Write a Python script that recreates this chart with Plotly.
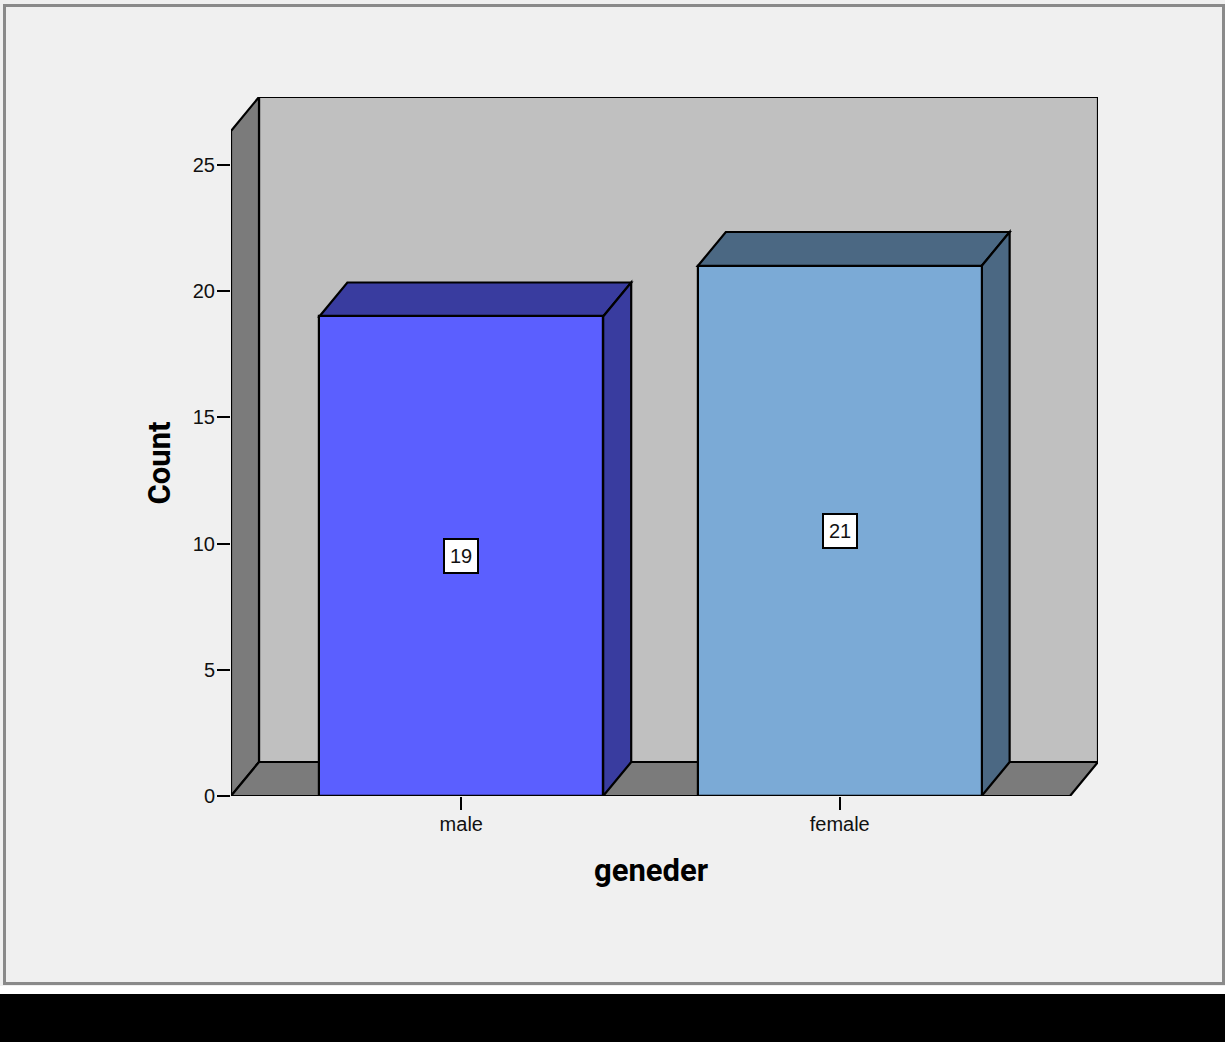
import plotly.graph_objects as go

# ---- data ----
categories = ["male", "female"]
counts = [19, 21]
front_colors = ["#5B5FFF", "#7BAAD6"]
shade_colors = ["#393C9F", "#4B6883"]
y_tick_values = [0, 5, 10, 15, 20, 25]

# ---- 3D box geometry (data units) ----
BAR_WIDTH = 0.75
DEPTH_X = 0.074
DEPTH_Y = 1.347
X_LEFT, X_RIGHT = -0.6085, 1.6085
Y_TOP = 26.35

# ---- figure / plot-area geometry (pixels) ----
W, H = 1225, 1042
M_L, M_R, M_T, M_B = 231, 127, 97, 246
PW, PH = W - M_L - M_R, H - M_T - M_B


def px(xpix):
    return (xpix - M_L) / PW


def py(ypix):
    return (H - M_B - ypix) / PH


def poly(points):
    return "M " + " L ".join(f"{x},{y}" for x, y in points) + " Z"


EDGE = dict(color="black", width=2.2)
WALL_DARK = "#7B7B7B"
WALL_BACK = "#C0C0C0"
BG = "#F0F0F0"

xs = list(range(len(categories)))

fig = go.Figure()
fig.add_trace(go.Bar(
    x=xs, y=counts, width=BAR_WIDTH,
    marker=dict(color=front_colors, line=EDGE),
    hoverinfo="skip", showlegend=False,
))

shapes = []
# back wall
shapes.append(dict(type="rect", xref="x", yref="y", layer="below",
                   x0=X_LEFT + DEPTH_X, x1=X_RIGHT + DEPTH_X,
                   y0=DEPTH_Y, y1=Y_TOP + DEPTH_Y,
                   fillcolor=WALL_BACK, line=EDGE))
# left side wall
shapes.append(dict(type="path", xref="x", yref="y", layer="below",
                   path=poly([(X_LEFT, 0), (X_LEFT, Y_TOP),
                              (X_LEFT + DEPTH_X, Y_TOP + DEPTH_Y),
                              (X_LEFT + DEPTH_X, DEPTH_Y)]),
                   fillcolor=WALL_DARK, line=EDGE))
# floor
shapes.append(dict(type="path", xref="x", yref="y", layer="below",
                   path=poly([(X_LEFT, 0), (X_RIGHT, 0),
                              (X_RIGHT + DEPTH_X, DEPTH_Y),
                              (X_LEFT + DEPTH_X, DEPTH_Y)]),
                   fillcolor=WALL_DARK, line=EDGE))
# top and side faces of each bar
for xi, v, shade in zip(xs, counts, shade_colors):
    l, r = xi - BAR_WIDTH / 2, xi + BAR_WIDTH / 2
    shapes.append(dict(type="path", xref="x", yref="y", layer="below",
                       path=poly([(l, v), (r, v), (r + DEPTH_X, v + DEPTH_Y),
                                  (l + DEPTH_X, v + DEPTH_Y)]),
                       fillcolor=shade, line=EDGE))
    shapes.append(dict(type="path", xref="x", yref="y", layer="below",
                       path=poly([(r, 0), (r, v), (r + DEPTH_X, v + DEPTH_Y),
                                  (r + DEPTH_X, DEPTH_Y)]),
                       fillcolor=shade, line=EDGE))

# outer frame and bottom band
shapes.append(dict(type="rect", xref="paper", yref="paper", layer="above",
                   x0=px(4.5), x1=px(1223.5), y0=py(5.5), y1=py(983.5),
                   fillcolor="rgba(0,0,0,0)", line=dict(color="#8A8A8A", width=3)))
shapes.append(dict(type="rect", xref="paper", yref="paper", layer="above",
                   x0=px(-5), x1=px(1230), y0=py(986), y1=py(994),
                   fillcolor="white", line=dict(width=0)))
shapes.append(dict(type="rect", xref="paper", yref="paper", layer="above",
                   x0=px(-5), x1=px(1230), y0=py(994), y1=py(1050),
                   fillcolor="black", line=dict(width=0)))

TICK_FONT = dict(family="Liberation Sans, Arial, sans-serif", size=20, color="#111111")
TITLE_FONT = dict(family="Roboto, sans-serif", size=31, color="black", weight="bold")

annotations = []
for xi, v in zip(xs, counts):
    annotations.append(dict(
        x=xi, y=v / 2, xref="x", yref="y", text=str(v), showarrow=False,
        font=TICK_FONT, bgcolor="white", bordercolor="black",
        borderwidth=2, borderpad=5,
    ))
annotations.append(dict(
    x=px(159), y=py(463.5), xref="paper", yref="paper", text="Count",
    textangle=-90, showarrow=False, font=TITLE_FONT,
    xanchor="center", yanchor="middle",
))
annotations.append(dict(
    x=px(650.5), y=py(870), xref="paper", yref="paper", text="geneder",
    showarrow=False, font=TITLE_FONT, xanchor="center", yanchor="middle",
))

fig.update_layout(
    width=W, height=H,
    margin=dict(l=M_L, r=M_R, t=M_T, b=M_B, pad=0),
    paper_bgcolor=BG, plot_bgcolor=BG,
    shapes=shapes, annotations=annotations,
    xaxis=dict(
        range=[X_LEFT, X_RIGHT + DEPTH_X], tickvals=xs, ticktext=categories,
        showgrid=False, zeroline=False, showline=False,
        ticks="outside", ticklen=13, tickwidth=2, tickcolor="black",
        tickfont=TICK_FONT, ticklabelstandoff=-3, fixedrange=True,
    ),
    yaxis=dict(
        range=[0, Y_TOP + DEPTH_Y], tickvals=y_tick_values,
        showgrid=False, zeroline=False, showline=False,
        ticks="outside", ticklen=13, tickwidth=2, tickcolor="black",
        tickfont=TICK_FONT, ticklabelstandoff=-2, fixedrange=True,
    ),
    bargap=0,
)

fig.write_html("out.html")
